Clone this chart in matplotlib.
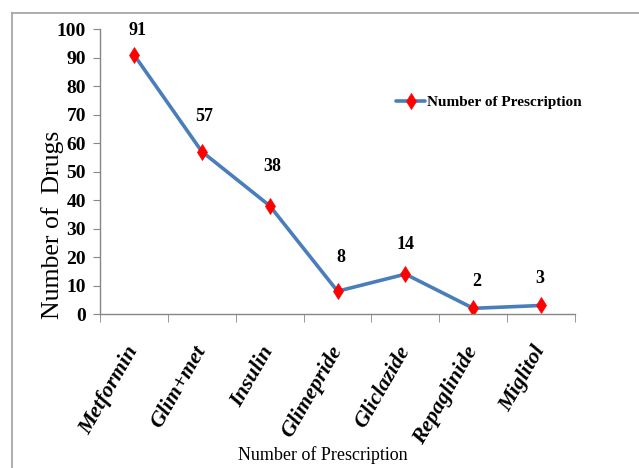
import matplotlib
matplotlib.use("Agg")
import matplotlib.pyplot as plt
from matplotlib.lines import Line2D

drugs = ["Metformin", "Glim+met", "Insulin", "Glimepride", "Gliclazide", "Repaglinide", "Miglitol"]
prescriptions = [91, 57, 38, 8, 14, 2, 3]
y_ticks = [0, 10, 20, 30, 40, 50, 60, 70, 80, 90, 100]

# value-label offsets above each point, in pixels (dx, dy)
label_dx = [4, 2, 3, 3, 0, 3, -1]
label_dy = [24, 35, 39, 34, 30, 27, 27]

serif = ["Liberation Serif", "DejaVu Serif"]
line_color = "#4A7EBB"
axis_gray = "#868686"

fig = plt.figure(figsize=(6.39, 4.68), dpi=100)
ax = fig.add_axes([0.1565, 0.329, 0.7435, 0.609])

x = list(range(len(drugs)))
ax.plot(x, prescriptions, color=line_color, lw=2.6, marker="d",
        markersize=8.5, markerfacecolor="#FF0000", markeredgecolor="#FF0000",
        markeredgewidth=0.5, label="Number of Prescription",
        solid_capstyle="round")

px2pt = 72 / fig.dpi
for xi, v, dx, dy in zip(x, prescriptions, label_dx, label_dy):
    ax.annotate(str(v), (xi, v), xytext=(dx * px2pt, dy * px2pt),
                textcoords="offset points", ha="center", va="center",
                fontsize=13, fontweight="bold", family=serif)

ax.set_xlim(-0.5, len(drugs) - 0.5)
ax.set_ylim(0, 100)
ax.set_yticks(y_ticks)
ax.set_yticklabels([str(t) for t in y_ticks], fontsize=14, fontweight="bold",
                   family=serif)
ax.set_xticks(x)
ax.set_xticklabels(drugs, rotation=60, ha="right", va="center",
                   rotation_mode="anchor", fontsize=16, fontweight="bold",
                   fontstyle="italic", family=serif)
ax.set_xticks([i - 0.5 for i in range(len(drugs) + 1)], minor=True)
ax.tick_params(axis="x", which="major", length=0, pad=24)
ax.tick_params(axis="x", which="minor", length=6, color=axis_gray, direction="out")
ax.tick_params(axis="y", length=5, color=axis_gray, pad=5)

for side in ("top", "right"):
    ax.spines[side].set_visible(False)
for side in ("left", "bottom"):
    ax.spines[side].set_color(axis_gray)
    ax.spines[side].set_linewidth(1.0)

fig.text(53 / 639, 1 - 225 / 468, "Number of  Drugs", rotation=90,
         ha="center", va="center", fontsize=18.5, family=serif)
fig.text(323 / 639, 1 - 455 / 468, "Number of Prescription", ha="center",
         va="center", fontsize=13, family=serif)

leg = ax.legend(loc="center left", bbox_to_anchor=((396 - 100) / 475, (314 - 102) / 285),
                frameon=False, borderpad=0, borderaxespad=0,
                handlelength=1.9, handletextpad=0.15,
                prop={"family": serif, "weight": "bold", "size": 11})

# outer frame (top and left edges)
fig.add_artist(Line2D([12 / 639, 1.0], [1 - 13 / 468, 1 - 13 / 468],
                      transform=fig.transFigure, color="#A0A0A0", lw=1.2))
fig.add_artist(Line2D([12 / 639, 12 / 639], [0.0, 1 - 13 / 468],
                      transform=fig.transFigure, color="#A0A0A0", lw=1.2))

fig.savefig("out.png", dpi=100, facecolor="white")
